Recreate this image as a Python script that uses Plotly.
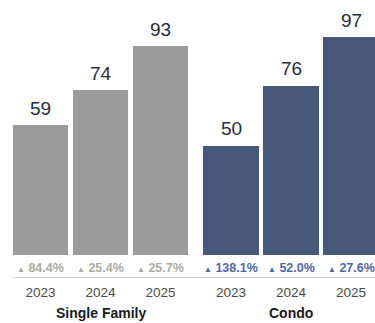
import plotly.graph_objects as go

# Median values by property type and year
years = ["2023", "2024", "2025"]
groups = ["Single Family", "Condo"]
single_family = [59, 74, 93]
condo = [50, 76, 97]
sf_change = ["84.4%", "25.4%", "25.7%"]
condo_change = ["138.1%", "52.0%", "27.6%"]

series = [single_family, condo]
changes = [sf_change, condo_change]
bar_colors = ["#9b9b9b", "#46597a"]
change_colors = ["#acaca4", "#5466a0"]

GROUP_STEP = 3.175   # offset between the two groups on the x axis
BAR_WIDTH = 0.92
FONT = "Liberation Sans, Arial"

fig = go.Figure()
tickvals, ticktext = [], []
for g, (vals, chg) in enumerate(zip(series, changes)):
    xs = [g * GROUP_STEP + i for i in range(len(years))]
    fig.add_trace(go.Bar(
        x=xs, y=vals, width=BAR_WIDTH,
        marker=dict(color=bar_colors[g], line=dict(width=0)),
        showlegend=False, hoverinfo="skip",
    ))
    tickvals += xs
    ticktext += years
    for x, v in zip(xs, vals):
        fig.add_annotation(
            x=x, y=v, xref="x", yref="y", yanchor="middle", yshift=17,
            text=str(v), showarrow=False,
            font=dict(family=FONT, size=19, color="#2a2c3b"),
        )
    for x, c in zip(xs, chg):
        fig.add_annotation(
            x=x, y=-0.05, xref="x", yref="paper", yanchor="middle",
            text=f"<span style='font-size:8px'>▲</span> <b>{c}</b>",
            showarrow=False,
            font=dict(family=FONT, size=12.5, color=change_colors[g]),
        )
    fig.add_annotation(
        x=xs[1], y=-0.226, xref="x", yref="paper", yanchor="middle",
        text=f"<b>{groups[g]}</b>", showarrow=False,
        font=dict(family=FONT, size=14, color="#1a1a1a"),
    )

# thin rule between change row and year labels
fig.add_shape(type="line", xref="paper", yref="paper",
              x0=0.032, x1=1.0, y0=-0.088, y1=-0.088,
              line=dict(color="#d8d8d8", width=1))

fig.update_layout(
    width=375, height=323,
    margin=dict(l=0, r=0, t=0, b=68),
    paper_bgcolor="white", plot_bgcolor="white",
    bargap=0,
    xaxis=dict(range=[-0.675, 5.575], tickvals=tickvals, ticktext=ticktext,
               showgrid=False, zeroline=False, showline=False, ticks="",
               tickfont=dict(family=FONT, size=13.5, color="#4a4a4a"),
               ticklabelstandoff=27),
    yaxis=dict(range=[2.94, 113.0], visible=False, showgrid=False, zeroline=False),
)

fig.write_html("out.html")
